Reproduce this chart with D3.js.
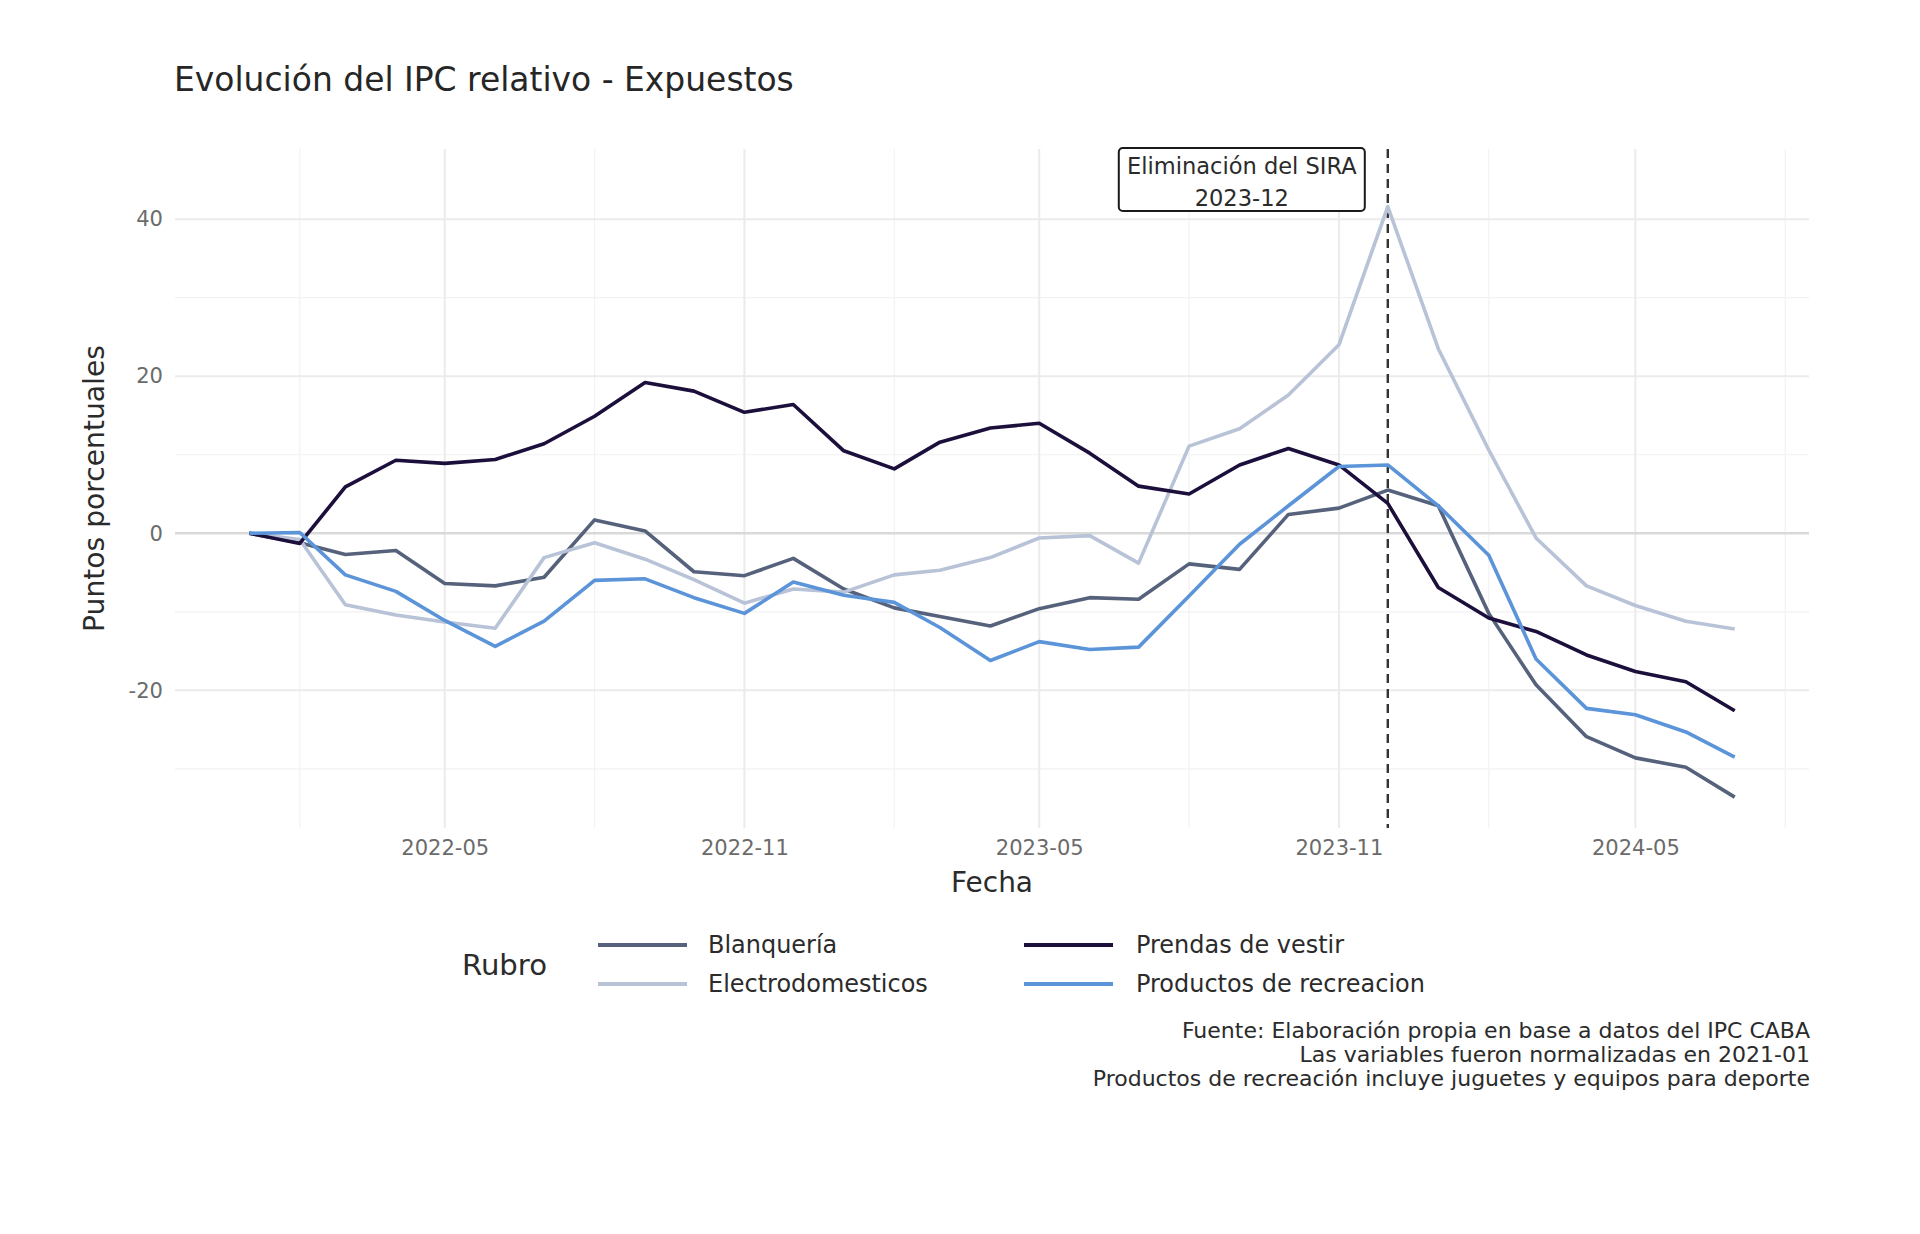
<!DOCTYPE html>
<html>
<head>
<meta charset="utf-8">
<script src="https://cdn.jsdelivr.net/npm/d3@7"></script>
<style>
  html, body { margin: 0; padding: 0; background: #ffffff; }
  svg { display: block; }
  text { font-family: "DejaVu Sans", "Open Sans", sans-serif; }
</style>
</head>
<body>
<script>
// ---------------- DATA ----------------
const months = [
  "2022-01","2022-02","2022-03","2022-04","2022-05","2022-06","2022-07","2022-08","2022-09","2022-10","2022-11","2022-12",
  "2023-01","2023-02","2023-03","2023-04","2023-05","2023-06","2023-07","2023-08","2023-09","2023-10","2023-11","2023-12",
  "2024-01","2024-02","2024-03","2024-04","2024-05","2024-06","2024-07"
];
const blanqueria = [0, -1.2, -2.7, -2.2, -6.4, -6.7, -5.6, 1.7, 0.3, -4.9, -5.4, -3.2,
  -7.1, -9.5, -10.6, -11.8, -9.6, -8.2, -8.4, -3.9, -4.6, 2.4, 3.2, 5.5,
  3.5, -10.2, -19.3, -25.9, -28.6, -29.8, -33.6];
const electrodomesticos = [0, -0.8, -9.1, -10.4, -11.3, -12.1, -3.1, -1.2, -3.3, -5.9, -8.9, -7.1,
  -7.5, -5.3, -4.7, -3.1, -0.6, -0.3, -3.8, 11.1, 13.3, 17.6, 24.0, 41.6,
  23.5, 10.6, -0.6, -6.7, -9.2, -11.2, -12.2];
const prendas = [0, -1.3, 5.9, 9.3, 8.9, 9.4, 11.4, 14.9, 19.2, 18.1, 15.4, 16.4,
  10.5, 8.2, 11.6, 13.4, 14.0, 10.2, 6.0, 5.0, 8.7, 10.8, 8.7, 3.8,
  -6.9, -10.8, -12.5, -15.5, -17.6, -18.9, -22.6];
const recreacion = [0, 0.1, -5.3, -7.4, -11.1, -14.4, -11.2, -6.0, -5.8, -8.2, -10.2, -6.2,
  -7.9, -8.8, -12.0, -16.2, -13.8, -14.8, -14.5, -8.0, -1.4, 3.5, 8.5, 8.7,
  3.5, -2.8, -16.0, -22.3, -23.1, -25.3, -28.5];

const seriesNames = ["Blanquería", "Electrodomesticos", "Prendas de vestir", "Productos de recreacion"];
const seriesValues = [blanqueria, electrodomesticos, prendas, recreacion];
const seriesColors = ["#56627b", "#b8c3d7", "#1c0f3c", "#5b94d8"];

const xMajorTicks = ["2022-05", "2022-11", "2023-05", "2023-11", "2024-05"];
const xMinorTicks = ["2022-02", "2022-08", "2023-02", "2023-08", "2024-02", "2024-08"];
const yMajorTicks = [-20, 0, 20, 40];
const yMinorTicks = [-30, -10, 10, 30];

const eventDate = "2023-12";
const eventLabel = ["Eliminación del SIRA", "2023-12"];
const eventLabelY = 45;

const titleText = "Evolución del IPC relativo - Expuestos";
const yTitle = "Puntos porcentuales";
const xTitle = "Fecha";
const legendTitle = "Rubro";
const captionLines = [
  "Fuente: Elaboración propia en base a datos del IPC CABA",
  "Las variables fueron normalizadas en 2021-01",
  "Productos de recreación incluye juguetes y equipos para deporte"
];

// ---------------- LAYOUT ----------------
const W = 1920, H = 1234;
const panel = { left: 175, right: 1809, top: 149, bottom: 828 };
const parse = d3.timeParse("%Y-%m");

const svg = d3.select("body").append("svg").attr("width", W).attr("height", H);

function fitWidth(sel, target) {
  const n = sel.node();
  const fs = parseFloat(sel.attr("font-size"));
  const w = n.getComputedTextLength();
  const nf = fs * target / w;
  sel.attr("font-size", nf);
  return nf;
}

// scales (ggplot-like 5% expansion)
const dates = months.map(parse);
const dExt = d3.extent(dates);
const dSpan = dExt[1] - dExt[0];
const x = d3.scaleTime()
  .domain([new Date(+dExt[0] - 0.05 * dSpan), new Date(+dExt[1] + 0.05 * dSpan)])
  .range([panel.left, panel.right]);

const allVals = seriesValues.flat().concat([eventLabelY]);
const vExt = d3.extent(allVals);
const vSpan = vExt[1] - vExt[0];
const y = d3.scaleLinear()
  .domain([vExt[0] - 0.05 * vSpan, vExt[1] + 0.05 * vSpan])
  .range([panel.bottom, panel.top]);

// ---------------- GRID ----------------
const grid = svg.append("g");
grid.selectAll(".vminor").data(xMinorTicks.map(parse)).join("line")
  .attr("x1", d => x(d)).attr("x2", d => x(d))
  .attr("y1", panel.top).attr("y2", panel.bottom)
  .attr("stroke", "#f2f2f2").attr("stroke-width", 1.2);
grid.selectAll(".hminor").data(yMinorTicks).join("line")
  .attr("x1", panel.left).attr("x2", panel.right)
  .attr("y1", d => y(d)).attr("y2", d => y(d))
  .attr("stroke", "#f2f2f2").attr("stroke-width", 1.2);
grid.selectAll(".vmajor").data(xMajorTicks.map(parse)).join("line")
  .attr("x1", d => x(d)).attr("x2", d => x(d))
  .attr("y1", panel.top).attr("y2", panel.bottom)
  .attr("stroke", "#ebebeb").attr("stroke-width", 2);
grid.selectAll(".hmajor").data(yMajorTicks).join("line")
  .attr("x1", panel.left).attr("x2", panel.right)
  .attr("y1", d => y(d)).attr("y2", d => y(d))
  .attr("stroke", d => d === 0 ? "#d9d9d9" : "#ebebeb")
  .attr("stroke-width", d => d === 0 ? 2.6 : 2);

// ---------------- AXES (labels only, like theme_minimal) ----------------
const xAxis = d3.axisBottom(x).tickValues(xMajorTicks.map(parse))
  .tickFormat(d3.timeFormat("%Y-%m")).tickSize(0).tickPadding(0);
const gx = svg.append("g").attr("transform", `translate(0,${panel.bottom + 12})`).call(xAxis);
gx.select(".domain").remove();
gx.selectAll("text").attr("font-size", 18).attr("fill", "#6b6b6b")
  .attr("font-family", "DejaVu Sans, sans-serif").attr("dy", "0.71em");
const tickFs = fitWidth(gx.select("text"), 88);
gx.selectAll("text").attr("font-size", tickFs);

const yAxis = d3.axisLeft(y).tickValues(yMajorTicks).tickFormat(d => String(d)).tickSize(0).tickPadding(0);
const gy = svg.append("g").attr("transform", `translate(${panel.left - 12},0)`).call(yAxis);
gy.select(".domain").remove();
gy.selectAll("text").attr("font-size", tickFs).attr("fill", "#6b6b6b")
  .attr("font-family", "DejaVu Sans, sans-serif");

// ---------------- EVENT LINE ----------------
svg.append("line")
  .attr("x1", x(parse(eventDate))).attr("x2", x(parse(eventDate)))
  .attr("y1", panel.top).attr("y2", panel.bottom)
  .attr("stroke", "#333333").attr("stroke-width", 2.4)
  .attr("stroke-dasharray", "9,6");

// ---------------- LINES ----------------
const line = d3.line().x((d, i) => x(dates[i])).y(d => y(d));
svg.append("g").selectAll("path").data(seriesValues).join("path")
  .attr("d", d => line(d))
  .attr("fill", "none")
  .attr("stroke", (d, i) => seriesColors[i])
  .attr("stroke-width", 3.6)
  .attr("stroke-linejoin", "round")
  .attr("stroke-linecap", "butt");

// ---------------- ANNOTATION LABEL ----------------
const ann = svg.append("g");
const annRight = x(parse(eventDate)) - 23;
const annCx = annRight - 123;
const annY = y(eventLabelY);
const annT1 = ann.append("text").attr("x", annCx).attr("y", annY - 6)
  .attr("text-anchor", "middle").attr("font-size", 20).attr("fill", "#2b2b2b").text(eventLabel[0]);
const annFs = fitWidth(annT1, 230);
ann.append("text").attr("x", annCx).attr("y", annY + 26)
  .attr("text-anchor", "middle").attr("font-size", annFs).attr("fill", "#2b2b2b").text(eventLabel[1]);
ann.insert("rect", "text")
  .attr("x", annRight - 246).attr("y", panel.top - 1)
  .attr("width", 246).attr("height", 63)
  .attr("rx", 4).attr("ry", 4)
  .attr("fill", "#ffffff").attr("stroke", "#1a1a1a").attr("stroke-width", 2);

// ---------------- TITLES ----------------
const t = svg.append("text").attr("x", 174).attr("y", 91)
  .attr("font-size", 30).attr("fill", "#262626").text(titleText);
fitWidth(t, 620);

const yt = svg.append("text")
  .attr("transform", `translate(104,${(panel.top + panel.bottom) / 2}) rotate(-90)`)
  .attr("text-anchor", "middle").attr("font-size", 24).attr("fill", "#2b2b2b").text(yTitle);
fitWidth(yt, 287);

const xt = svg.append("text")
  .attr("x", (panel.left + panel.right) / 2).attr("y", 892)
  .attr("text-anchor", "middle").attr("font-size", 24).attr("fill", "#2b2b2b").text(xTitle);
fitWidth(xt, 82);

// ---------------- LEGEND ----------------
const leg = svg.append("g");
const lt = leg.append("text").attr("x", 462).attr("y", 965)
  .attr("dy", "0.35em").attr("font-size", 24).attr("fill", "#2b2b2b").text(legendTitle);
fitWidth(lt, 85);

const legPos = [
  { kx: 598, tx: 708, y: 945 },
  { kx: 598, tx: 708, y: 984 },
  { kx: 1024, tx: 1136, y: 945 },
  { kx: 1024, tx: 1136, y: 984 }
];
const items = leg.selectAll(".item").data(seriesNames).join("g");
items.append("line")
  .attr("x1", (d, i) => legPos[i].kx).attr("x2", (d, i) => legPos[i].kx + 89)
  .attr("y1", (d, i) => legPos[i].y).attr("y2", (d, i) => legPos[i].y)
  .attr("stroke", (d, i) => seriesColors[i]).attr("stroke-width", 3.8);
const legTexts = items.append("text")
  .attr("x", (d, i) => legPos[i].tx).attr("y", (d, i) => legPos[i].y)
  .attr("dy", "0.35em").attr("font-size", 20).attr("fill", "#2b2b2b").text(d => d);
const legFs = fitWidth(d3.select(legTexts.nodes()[3]), 289);
legTexts.attr("font-size", legFs);

// ---------------- CAPTION ----------------
const capY = [1038, 1062, 1086];
const caps = svg.append("g").selectAll("text").data(captionLines).join("text")
  .attr("x", 1810).attr("y", (d, i) => capY[i])
  .attr("text-anchor", "end").attr("font-size", 18).attr("fill", "#2b2b2b").text(d => d);
const capFs = fitWidth(d3.select(caps.nodes()[2]), 718);
caps.attr("font-size", capFs);
</script>
</body>
</html>
